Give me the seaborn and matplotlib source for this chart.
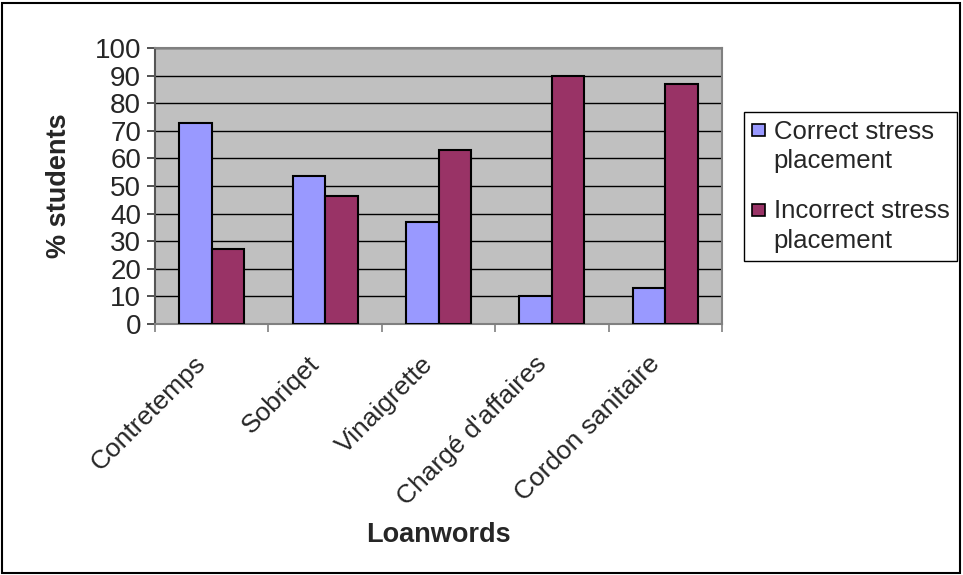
import matplotlib
matplotlib.use("Agg")
import matplotlib.pyplot as plt
import matplotlib.transforms as mtransforms
import seaborn as sns
import pandas as pd
from matplotlib.patches import Rectangle
from matplotlib.legend_handler import HandlerBase

categories = ["Contretemps", "Sobriqet", "Vinaigrette", "Chargé d'affaires", "Cordon sanitaire"]
correct = [73, 53.5, 37, 10, 13]
incorrect = [27, 46.5, 63, 90, 87]
series_names = ["Correct stress\nplacement", "Incorrect stress\nplacement"]
yticks = [0, 10, 20, 30, 40, 50, 60, 70, 80, 90, 100]

df = pd.DataFrame({
    "Loanwords": categories * 2,
    "value": correct + incorrect,
    "series": [series_names[0]] * len(categories) + [series_names[1]] * len(categories),
})

sns.set_theme(style="white")
plt.rcParams["font.family"] = ["Liberation Sans", "DejaVu Sans"]

fig = plt.figure(figsize=(9.63, 5.75), dpi=100)
ax = fig.add_axes([155 / 963, 1 - 324 / 575, (722 - 155) / 963, (324 - 48) / 575])

sns.barplot(data=df, x="Loanwords", y="value", hue="series",
            palette=["#9999FF", "#993366"], width=0.572, ax=ax,
            edgecolor="black", linewidth=1.5, saturation=1, errorbar=None, zorder=3)

ax.set_facecolor("#C0C0C0")
ax.set_ylim(0, 100)
ax.set_xlim(-0.5, len(categories) - 0.5)
ax.set_yticks(yticks)
ax.set_yticklabels([str(t) for t in yticks], fontsize=20)
ax.yaxis.grid(True, color="black", linewidth=1.0, zorder=0)
ax.set_axisbelow(True)
ax.tick_params(axis="y", which="major", direction="out", length=6, width=1.2,
               color="#333333", left=True, pad=4)

ax.set_xticks(range(len(categories)))
ax.set_xticklabels(categories, rotation=45, ha="right", va="top", rotation_mode="anchor", fontsize=19)
ax.tick_params(axis="x", which="major", length=0, pad=12)
ax.set_xticks([i - 0.5 for i in range(len(categories) + 1)], minor=True)
ax.tick_params(axis="x", which="minor", direction="out", length=6, width=1.2, color="#808080", bottom=True)
shift = mtransforms.ScaledTranslation(-18 / 100, -11 / 100, fig.dpi_scale_trans)
for lbl in ax.get_xticklabels():
    lbl.set_transform(lbl.get_transform() + shift)

for s in ["top", "right", "bottom"]:
    ax.spines[s].set_color("#808080")
    ax.spines[s].set_linewidth(1.5)
    ax.spines[s].set_visible(True)
ax.spines["left"].set_color("#555555")
ax.spines["left"].set_linewidth(1.5)
ax.spines["left"].set_visible(True)

ax.set_ylabel("% students", fontsize=19.5, fontweight="bold", labelpad=16)
ax.set_xlabel("Loanwords", fontsize=19.5, fontweight="bold")
ax.xaxis.set_label_coords(0.5, (324 - 522) / 276)


class TopSquareHandler(HandlerBase):
    def create_artists(self, legend, orig_handle, xdescent, ydescent, width, height, fontsize, trans):
        size = 0.47 * fontsize
        cy = -ydescent + height / 2 + 0.65 * fontsize
        r = Rectangle((-xdescent + width - size, cy - size / 2), size, size,
                      facecolor=orig_handle.get_facecolor(), edgecolor="black",
                      linewidth=1.2, transform=trans)
        return [r]


handles, labels = ax.get_legend_handles_labels()
leg = ax.legend(handles, labels, loc="upper left", bbox_to_anchor=(744 / 963, 1 - 112 / 575),
                bbox_transform=fig.transFigure, fontsize=18.5, frameon=True, fancybox=False,
                edgecolor="black", framealpha=1, handlelength=0.5, handleheight=0.6,
                handletextpad=0.35, labelspacing=1.0, borderpad=0.3, borderaxespad=0,
                handler_map={h: TopSquareHandler() for h in handles})
for t in leg.get_texts():
    t.set_linespacing(1.3)
leg.get_frame().set_linewidth(1.0)

fig.patches.append(Rectangle((2 / 963, 2 / 575), 958 / 963, 570 / 575, transform=fig.transFigure,
                             fill=False, edgecolor="black", linewidth=1.5))

fig.savefig("out.png", dpi=100)
